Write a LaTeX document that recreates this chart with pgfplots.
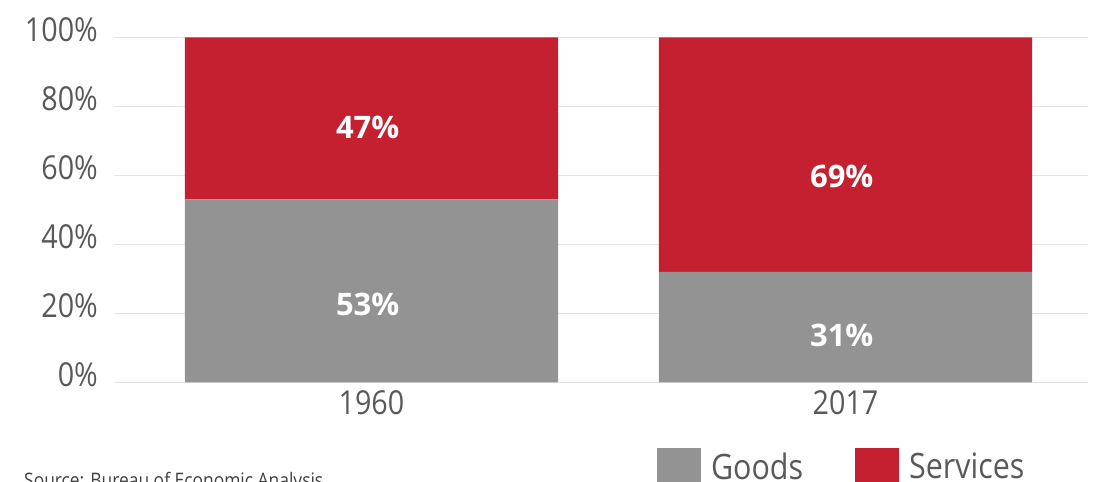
\documentclass[border=0pt]{standalone}
\usepackage{pgfplots}
\pgfplotsset{compat=1.18}
\usepackage{fontspec}
\setmainfont{Open Sans}[FakeStretch=0.87]
\newfontfamily\labfont{Open Sans}
\definecolor{goods}{HTML}{939393}
\definecolor{serv}{HTML}{C52030}
\definecolor{txt}{HTML}{595959}
\definecolor{gridc}{HTML}{E4E4E4}
\begin{document}
\begin{tikzpicture}
\path[use as bounding box] (0bp,0bp) rectangle (1097bp,482bp);
\clip (0bp,0bp) rectangle (1097bp,482bp);
\begin{axis}[
  at={(114bp,99.7bp)}, anchor=south west,
  scale only axis, width=974bp, height=345bp,
  ybar stacked, bar width=0.787,
  xmin=-0.5432, xmax=1.5116, ymin=0, ymax=100,
  xtick={0,1}, xticklabels={1960,2017},
  ytick={0,20,40,60,80,100},
  yticklabels={0\%,20\%,40\%,60\%,80\%,100\%},
  axis line style={draw=none}, major tick length=0pt,
  ymajorgrids, grid style={gridc, line width=1.5bp},
  tick label style={font=\fontsize{33bp}{40bp}\selectfont, text=txt, inner sep=0pt},
  xticklabel style={yshift=-7.7bp},
  yticklabel style={xshift=-16bp, yshift=7.5bp},
  legend columns=2,
  legend image code/.code={\fill[#1] (0bp,-18bp) rectangle (44bp,18bp);},
  legend style={draw=none, fill=none, at={(0.5575,-0.1904)}, anchor=north west,
    inner sep=0pt, outer sep=0pt, font=\fontsize{35bp}{42bp}\selectfont,
    nodes={inner sep=0pt, text=txt, text depth=0pt},
    /tikz/every odd column/.append style={column sep=10bp},
    /tikz/every even column/.append style={column sep=52bp}},
]
\addplot[fill=goods, draw=none] coordinates {(0,53) (1,32)};
\addlegendentry{Goods}
\addplot[fill=serv, draw=none] coordinates {(0,47) (1,68)};
\addlegendentry{Services}
\coordinate (l47) at (axis cs:-0.008,73.9);
\coordinate (l53) at (axis cs:-0.008,22.7);
\coordinate (l69) at (axis cs:0.992,59.7);
\coordinate (l31) at (axis cs:0.992,13.7);
\end{axis}
\begin{scope}[every node/.style={text=white, inner sep=0pt, font=\labfont\bfseries\fontsize{31bp}{36bp}\selectfont}]
\node at (l47) {47\%};
\node at (l53) {53\%};
\node at (l69) {69\%};
\node at (l31) {31\%};
\end{scope}
\node[anchor=base west, inner sep=0pt, text=black!75, font=\fontsize{20bp}{24bp}\selectfont] at (24bp,-5bp) {Source: Bureau of Economic Analysis};
\end{tikzpicture}
\end{document}
